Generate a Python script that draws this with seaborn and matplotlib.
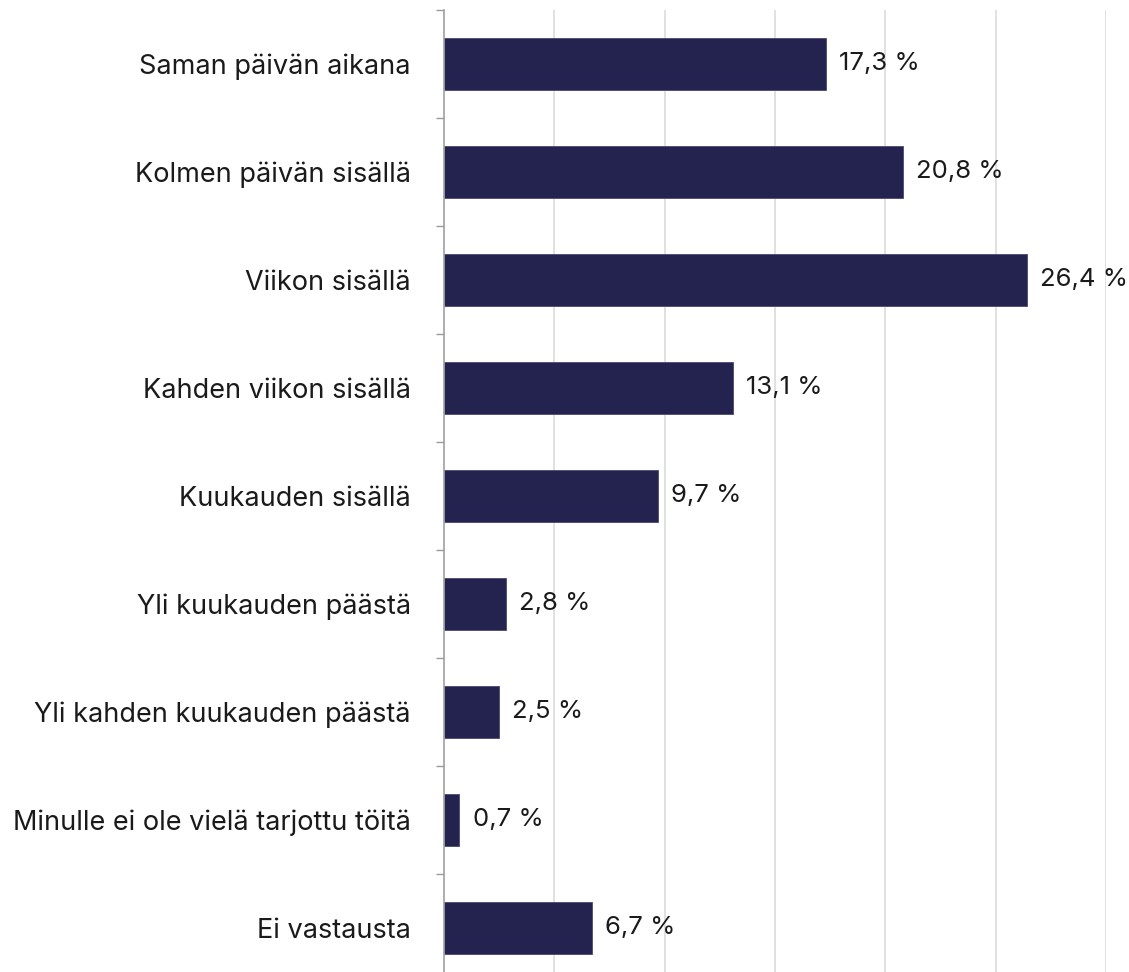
import matplotlib
matplotlib.use("Agg")
import matplotlib.pyplot as plt
import numpy as np
import pandas as pd
import seaborn as sns

categories = [
    "Saman päivän aikana",
    "Kolmen päivän sisällä",
    "Viikon sisällä",
    "Kahden viikon sisällä",
    "Kuukauden sisällä",
    "Yli kuukauden päästä",
    "Yli kahden kuukauden päästä",
    "Minulle ei ole vielä tarjottu töitä",
    "Ei vastausta",
]
shares = [17.3, 20.8, 26.4, 13.1, 9.7, 2.8, 2.5, 0.7, 6.7]

df = pd.DataFrame({"category": categories, "share": shares})

sns.set_theme(style="white")
plt.rcParams["font.family"] = ["Inter", "DejaVu Sans"]

fig = plt.figure(figsize=(11.29, 9.72), dpi=100)
# axes area in pixels: left 444, right 1106, top 10, bottom 982 (cut off)
ax = fig.add_axes([444 / 1129, (972 - 982) / 972, (1106 - 444) / 1129, 972 / 972])

sns.barplot(data=df, y="category", x="share", orient="h", color="#24224F",
            saturation=1, width=0.49, edgecolor="#4a4872", linewidth=0.6, ax=ax)

ax.set_xlim(0, 30)
ax.set_ylim(len(categories) - 0.5, -0.5)
ax.set_xticks(np.arange(5, 31, 5))
ax.xaxis.grid(True, color="#dcdcdc", linewidth=1.2)
ax.set_axisbelow(True)
ax.tick_params(axis="x", length=0, labelbottom=False)
ax.set_xlabel("")
ax.set_ylabel("")

# category boundary ticks on the y axis
ax.set_yticks(np.arange(-0.5, len(categories), 1), minor=True)
ax.tick_params(axis="y", which="minor", length=6, width=1, color="#9a9a9a", left=True)
ax.tick_params(axis="y", which="major", length=0, pad=24, labelsize=19.5, labelcolor="#1a1a1a")

for s in ["top", "right", "bottom"]:
    ax.spines[s].set_visible(False)
ax.spines["left"].set_color("#a0a0a0")
ax.spines["left"].set_linewidth(1.2)

for i, v in enumerate(shares):
    ax.text(v + 0.6, i, f"{v:.1f}".replace(".", ",") + " %", va="center", ha="left",
            fontsize=18.5, color="#1a1a1a", clip_on=False)

fig.savefig("out.png", dpi=100)
